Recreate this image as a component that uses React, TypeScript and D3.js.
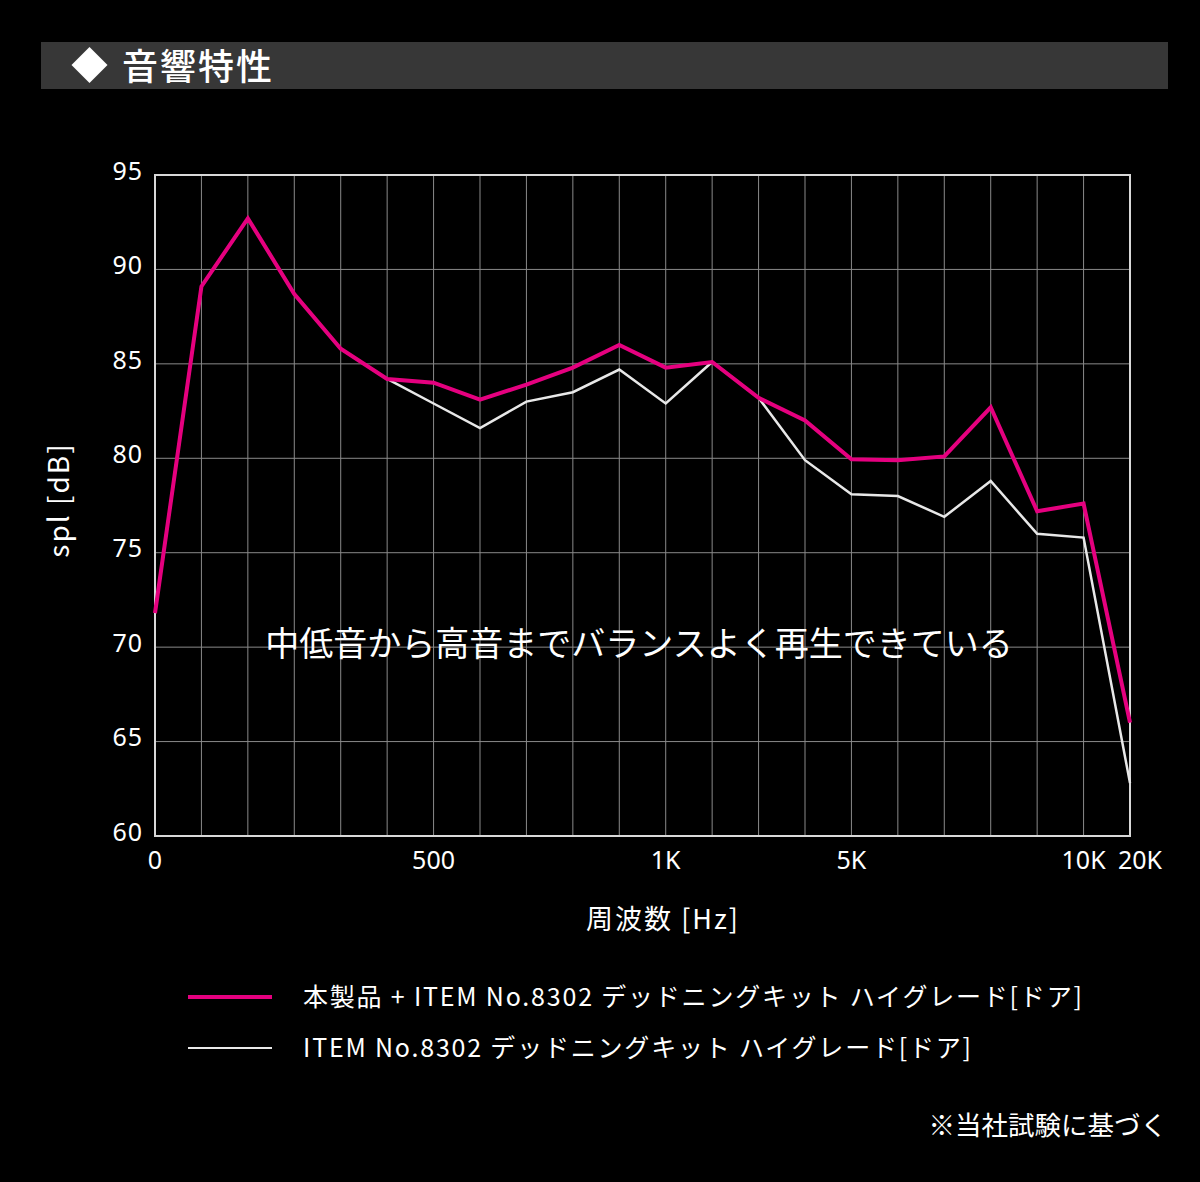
import { useEffect, useRef } from "react"
import * as d3 from "d3"

// 22 measurement points along the frequency axis (index based, labels only on some)
const puntos = [0, 1, 2, 3, 4, 5, 6, 7, 8, 9, 10, 11, 12, 13, 14, 15, 16, 17, 18, 19, 20, 21]

const etiquetasX = [
  { at: 0, label: "0" },
  { at: 6, label: "500" },
  { at: 11, label: "1K" },
  { at: 15, label: "5K" },
  { at: 20, label: "10K" },
  { at: 21, label: "20K" },
]

const ticksY = [60, 65, 70, 75, 80, 85, 90, 95]

// 本製品 + ITEM No.8302
const serieProducto = [
  71.8, 89.1, 92.7, 88.7, 85.8, 84.2, 84.0, 83.1, 83.9, 84.8, 86.0,
  84.8, 85.1, 83.2, 82.0, 79.95, 79.9, 80.1, 82.7, 77.2, 77.6, 66.0,
]

// ITEM No.8302 のみ
const serieItem = [
  71.8, 89.1, 92.7, 88.7, 85.8, 84.2, 82.9, 81.6, 83.0, 83.5, 84.7,
  82.9, 85.1, 83.2, 79.9, 78.1, 78.0, 76.9, 78.8, 76.0, 75.8, 62.8,
]

const leyenda = [
  { texto: "本製品 + ITEM No.8302 デッドニングキット ハイグレード[ドア]", color: "#e5007f", grosor: 4 },
  { texto: "ITEM No.8302 デッドニングキット ハイグレード[ドア]", color: "#e8e8e8", grosor: 2 },
]

const FUENTE = "'Noto Sans CJK JP', 'Noto Sans', sans-serif"
const NUMEROS = "'Noto Sans', 'Noto Sans CJK JP', sans-serif"

export default function App() {
  const svgRef = useRef<SVGSVGElement>(null)

  useEffect(() => {
    if (!svgRef.current) return
    const svg = d3.select(svgRef.current)
    svg.selectAll("*").remove()

    const width = 1200
    const height = 1182
    const izq = 155
    const der = 1130
    const arriba = 175
    const abajo = 836

    svg.append("rect").attr("width", width).attr("height", height).attr("fill", "#000")

    // Cabecera
    svg.append("rect").attr("x", 41).attr("y", 42).attr("width", 1127).attr("height", 47).attr("fill", "#373737")
    svg.append("path")
      .attr("d", "M89.5,47 L107.5,65 L89.5,83 L71.5,65 Z")
      .attr("fill", "#fff")
    svg.append("text")
      .attr("x", 122)
      .attr("y", 80)
      .attr("fill", "#fff")
      .style("font-family", FUENTE)
      .style("font-size", "36px")
      .style("font-weight", "500")
      .style("letter-spacing", "2px")
      .text("音響特性")

    const x = d3.scalePoint<number>().domain(puntos).range([izq, der])
    const y = d3.scaleLinear().domain([60, 95]).range([abajo, arriba])

    const g = svg.append("g")

    // Rejilla vertical
    puntos.forEach((p) => {
      g.append("line")
        .attr("x1", x(p)!)
        .attr("x2", x(p)!)
        .attr("y1", arriba)
        .attr("y2", abajo)
        .attr("stroke", "#8a8a8a")
        .attr("stroke-width", 1)
    })

    // Rejilla horizontal + etiquetas
    ticksY.forEach((t) => {
      g.append("line")
        .attr("x1", izq)
        .attr("x2", der)
        .attr("y1", y(t))
        .attr("y2", y(t))
        .attr("stroke", "#8a8a8a")
        .attr("stroke-width", 1)
      g.append("text")
        .attr("x", 143)
        .attr("y", y(t) - 2)
        .attr("text-anchor", "end")
        .attr("dominant-baseline", "middle")
        .attr("fill", "#fff")
        .style("font-family", NUMEROS)
        .style("font-size", "25px")
        .style("letter-spacing", "1px")
        .text(t)
    })

    // Marco
    g.append("rect")
      .attr("x", izq)
      .attr("y", arriba)
      .attr("width", der - izq)
      .attr("height", abajo - arriba)
      .attr("fill", "none")
      .attr("stroke", "#d8d8d8")
      .attr("stroke-width", 2)

    // Etiquetas eje X
    etiquetasX.forEach((e) => {
      const ultimo = e.at === puntos.length - 1
      g.append("text")
        .attr("x", x(e.at)! + (ultimo ? -12 : 0))
        .attr("y", 869)
        .attr("text-anchor", ultimo ? "start" : "middle")
        .attr("fill", "#fff")
        .style("font-family", NUMEROS)
        .style("font-size", "25px")
        .text(e.label)
    })

    // Títulos de ejes
    g.append("text")
      .attr("x", 663)
      .attr("y", 929)
      .attr("text-anchor", "middle")
      .attr("fill", "#fff")
      .style("font-family", FUENTE)
      .style("font-size", "27px")
      .style("letter-spacing", "2px")
      .text("周波数 [Hz]")

    g.append("text")
      .attr("transform", `translate(69, 500) rotate(-90)`)
      .attr("text-anchor", "middle")
      .attr("fill", "#fff")
      .style("font-family", FUENTE)
      .style("font-size", "28px")
      .style("letter-spacing", "2px")
      .text("spl [dB]")

    // Anotación
    g.append("text")
      .attr("x", 639)
      .attr("y", 656)
      .attr("text-anchor", "middle")
      .attr("fill", "#fff")
      .style("font-family", FUENTE)
      .style("font-size", "34px")
      .text("中低音から高音までバランスよく再生できている")

    const linea = d3
      .line<number>()
      .x((_, i) => x(puntos[i])!)
      .y((d) => y(d))

    g.append("path")
      .datum(serieItem)
      .attr("d", linea)
      .attr("fill", "none")
      .attr("stroke", "#e8e8e8")
      .attr("stroke-width", 2.5)

    g.append("path")
      .datum(serieProducto)
      .attr("d", linea)
      .attr("fill", "none")
      .attr("stroke", "#e5007f")
      .attr("stroke-width", 4)

    // Leyenda
    leyenda.forEach((l, i) => {
      const ly = 997 + i * 51
      svg.append("line")
        .attr("x1", 188)
        .attr("x2", 272)
        .attr("y1", ly)
        .attr("y2", ly)
        .attr("stroke", l.color)
        .attr("stroke-width", l.grosor)
      svg.append("text")
        .attr("x", 303)
        .attr("y", ly + 9)
        .attr("fill", "#fff")
        .style("font-family", FUENTE)
        .style("font-size", "25px")
        .style("letter-spacing", "1.8px")
        .text(l.texto)
    })

    svg.append("text")
      .attr("x", 1167)
      .attr("y", 1135)
      .attr("text-anchor", "end")
      .attr("fill", "#fff")
      .style("font-family", FUENTE)
      .style("font-size", "26.5px")
      .text("※当社試験に基づく")
  }, [])

  return (
    <svg
      ref={svgRef}
      width={1200}
      height={1182}
      style={{ position: "absolute", left: 0, top: 0, display: "block" }}
    />
  )
}
